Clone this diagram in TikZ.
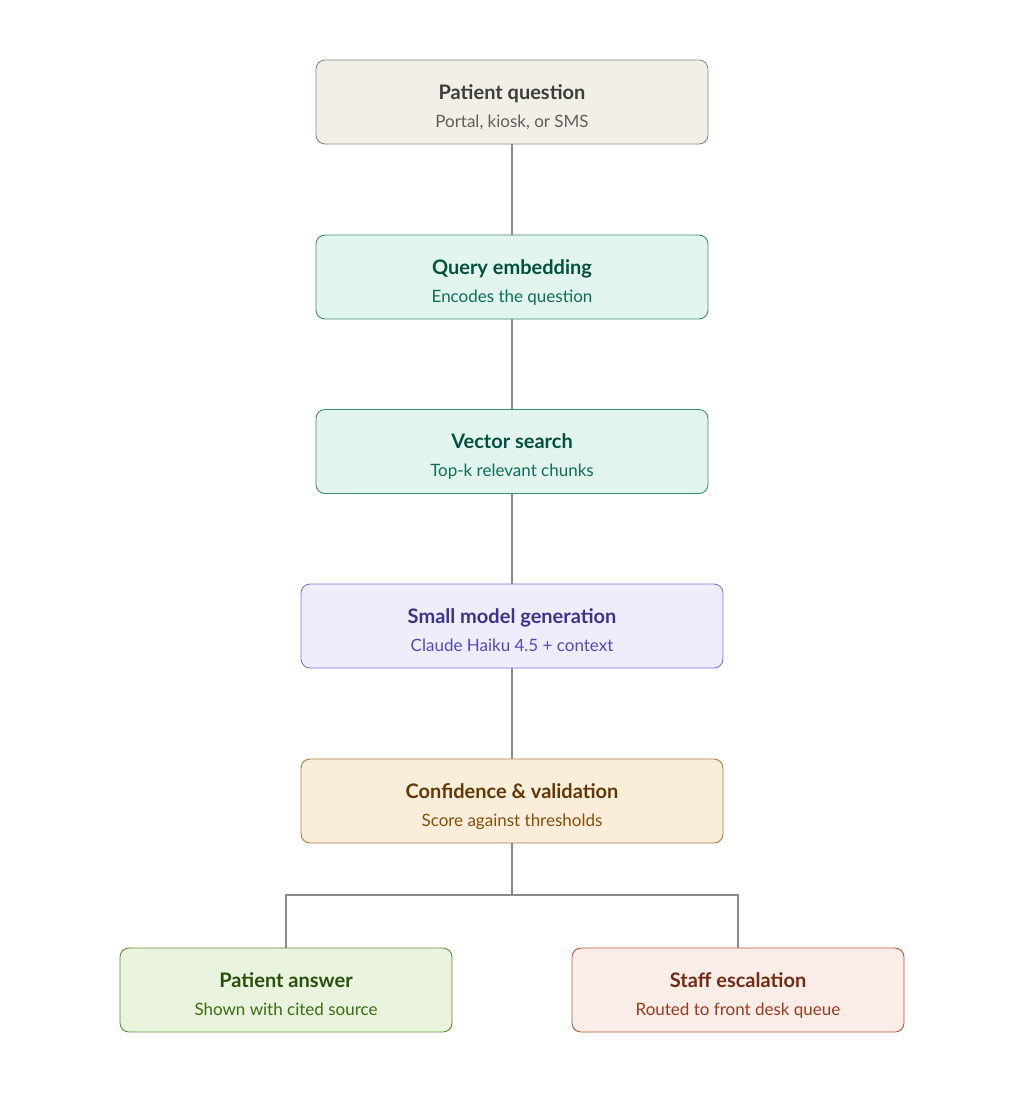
\documentclass[tikz,border=0pt]{standalone}
\usepackage{fontspec}
\setmainfont{Lato}
\begin{document}
\begin{tikzpicture}[x=1pt,y=-1pt,
  box/.style={draw, rounded corners=9pt, line width=0.9pt, inner sep=0pt, minimum height=84pt},
  ttl/.style={anchor=base, font=\fontsize{20}{24}\selectfont\bfseries},
  sub/.style={anchor=base, font=\fontsize{17}{20}\selectfont},
  link/.style={draw=linegray, line width=2pt}
]
\definecolor{linegray}{HTML}{8A8A88}
\definecolor{grayfill}{HTML}{F1EFE8}\definecolor{grayline}{HTML}{8C8A84}\definecolor{graytitle}{HTML}{3D3D3A}\definecolor{graysub}{HTML}{5F5E5A}
\definecolor{tealfill}{HTML}{E1F5EE}\definecolor{tealline}{HTML}{3F8F73}\definecolor{tealtitle}{HTML}{04503F}\definecolor{tealsub}{HTML}{0F6E56}
\definecolor{purpfill}{HTML}{EEEDFE}\definecolor{purpline}{HTML}{7F77DD}\definecolor{purptitle}{HTML}{3C3489}\definecolor{purpsub}{HTML}{534AB7}
\definecolor{ambfill}{HTML}{FAEEDA}\definecolor{ambline}{HTML}{B07A3C}\definecolor{ambtitle}{HTML}{633806}\definecolor{ambsub}{HTML}{854F0B}
\definecolor{grnfill}{HTML}{EAF3DE}\definecolor{grnline}{HTML}{5E8F32}\definecolor{grntitle}{HTML}{27500A}\definecolor{grnsub}{HTML}{3B6D11}
\definecolor{redfill}{HTML}{FAECE7}\definecolor{redline}{HTML}{B9583E}\definecolor{redtitle}{HTML}{712B13}\definecolor{redsub}{HTML}{993C1D}
\useasboundingbox[fill=white] (0,0) rectangle (1024,1093);

\node[box, fill=grayfill, draw=grayline, minimum width=392pt] (q) at (512,102) {};
\node[box, fill=tealfill, draw=tealline, minimum width=392pt] (e) at (512,277) {};
\node[box, fill=tealfill, draw=tealline, minimum width=392pt] (v) at (512,451.5) {};
\node[box, fill=purpfill, draw=purpline, minimum width=422pt] (g) at (512,626) {};
\node[box, fill=ambfill, draw=ambline, minimum width=422pt] (c) at (512,801) {};
\node[box, fill=grnfill, draw=grnline, minimum width=332pt] (a) at (286,990) {};
\node[box, fill=redfill, draw=redline, minimum width=332pt] (s) at (738,990) {};

\node[ttl, text=graytitle] (qt) at ([yshift=3pt]q.center) {Patient question};
\node[sub, text=graysub] (qs) at ([yshift=-25pt]q.center) {Portal, kiosk, or SMS};
\node[ttl, text=tealtitle] (et) at ([yshift=3pt]e.center) {Query embedding};
\node[sub, text=tealsub] (es) at ([yshift=-25pt]e.center) {Encodes the question};
\node[ttl, text=tealtitle] (vt) at ([yshift=3pt]v.center) {Vector search};
\node[sub, text=tealsub] (vs) at ([yshift=-25pt]v.center) {Top-k relevant chunks};
\node[ttl, text=purptitle] (gt) at ([yshift=3pt]g.center) {Small model generation};
\node[sub, text=purpsub] (gs) at ([yshift=-25pt]g.center) {Claude Haiku 4.5 + context};
\node[ttl, text=ambtitle] (ct) at ([yshift=3pt]c.center) {Confidence \& validation};
\node[sub, text=ambsub] (cs) at ([yshift=-25pt]c.center) {Score against thresholds};
\node[ttl, text=grntitle] (at) at ([yshift=3pt]a.center) {Patient answer};
\node[sub, text=grnsub] (as) at ([yshift=-25pt]a.center) {Shown with cited source};
\node[ttl, text=redtitle] (st) at ([yshift=3pt]s.center) {Staff escalation};
\node[sub, text=redsub] (ss) at ([yshift=-25pt]s.center) {Routed to front desk queue};

\coordinate (br) at (512,895);
\path[link] (q.south) -- (e.north);
\path[link] (e.south) -- (v.north);
\path[link] (v.south) -- (g.north);
\path[link] (g.south) -- (c.north);
\path[link] (c.south) -- (br);
\path[link] (br) -| (a.north);
\path[link] (br) -| (s.north);
\end{tikzpicture}
\end{document}
